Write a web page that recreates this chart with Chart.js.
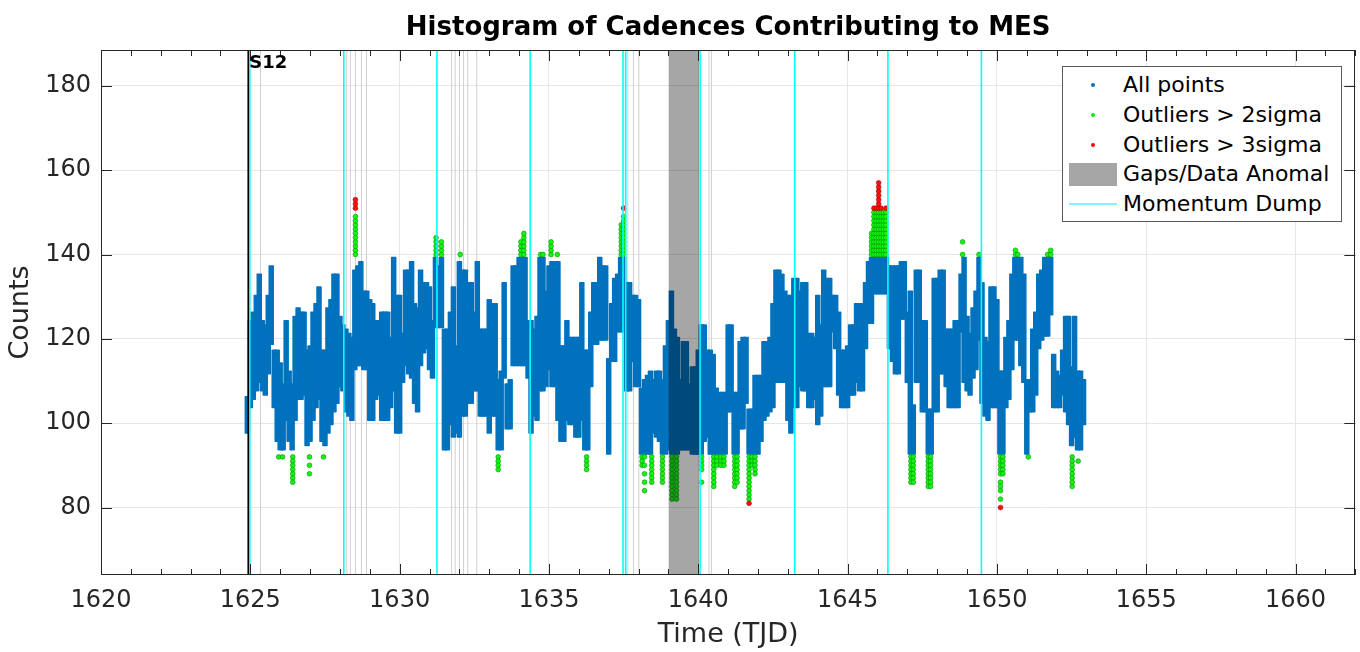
<!DOCTYPE html>
<html><head><meta charset="utf-8">
<script src="https://cdn.jsdelivr.net/npm/chart.js@4.4.1/dist/chart.umd.min.js"></script>
<style>
html,body{margin:0;padding:0;background:#fff;}
#wrap{position:relative;width:1360px;height:652px;}
#legend{position:absolute;left:1062px;top:66px;width:280px;height:156px;background:#fff;border:1px solid #5a5a5a;font-family:"DejaVu Sans",sans-serif;font-size:22px;color:#000;box-sizing:border-box;}
.row{position:absolute;left:0;width:100%;height:30px;line-height:30px;}
.lbl{position:absolute;left:60px;top:0;white-space:nowrap;}
.dot{position:absolute;left:28px;top:13px;width:4px;height:4px;border-radius:50%;}
.rect{position:absolute;left:6px;top:4px;width:48px;height:23px;background:#a6a6a6;}
.line{position:absolute;left:6px;top:14px;width:48px;height:2px;background:#7ff6fb;}
</style></head><body>
<div id="wrap">
<canvas id="c" width="1360" height="652"></canvas>
<div id="legend">
  <div class="row" style="top:3px"><span class="dot" style="background:#0072BD"></span><span class="lbl">All points</span></div>
  <div class="row" style="top:33px"><span class="dot" style="background:#00ee00"></span><span class="lbl">Outliers &gt; 2sigma</span></div>
  <div class="row" style="top:63px"><span class="dot" style="background:#ff0000"></span><span class="lbl">Outliers &gt; 3sigma</span></div>
  <div class="row" style="top:92px"><span class="rect"></span><span class="lbl">Gaps/Data Anomal</span></div>
  <div class="row" style="top:122px"><span class="line"></span><span class="lbl">Momentum Dump</span></div>
</div>
</div>
<script>
// ---------------- DATA ----------------
const binTime = [
 1624.9,
 1625.0,1625.1,1625.2,1625.3,1625.4,1625.5,1625.6,1625.7,1625.8,1625.9,
 1626.0,1626.1,1626.2,1626.3,1626.4,1626.5,1626.6,1626.7,1626.8,1626.9,
 1627.0,1627.1,1627.2,1627.3,1627.4,1627.5,1627.6,1627.7,1627.8,1627.9,
 1628.0,1628.1,1628.2,1628.3,1628.4,1628.5,1628.6,1628.7,1628.8,1628.9,
 1629.0,1629.1,1629.2,1629.3,1629.4,1629.5,1629.6,1629.7,1629.8,1629.9,
 1630.0,1630.1,1630.2,1630.3,1630.4,1630.5,1630.6,1630.7,1630.8,1630.9,
 1631.0,1631.1,1631.2,1631.3,1631.4,1631.5,1631.6,1631.7,1631.8,1631.9,
 1632.0,1632.1,1632.2,1632.3,1632.4,1632.5,1632.6,1632.7,1632.8,1632.9,
 1633.0,1633.1,1633.2,1633.3,1633.4,1633.5,1633.6,1633.7,1633.8,1633.9,
 1634.0,1634.1,1634.2,1634.3,1634.4,1634.5,1634.6,1634.7,1634.8,1634.9,
 1635.0,1635.1,1635.2,1635.3,1635.4,1635.5,1635.6,1635.7,1635.8,1635.9,
 1636.0,1636.1,1636.2,1636.3,1636.4,1636.5,1636.6,1636.7,1636.8,1636.9,
 1637.0,1637.1,1637.2,1637.3,1637.4,1637.5,1637.6,1637.7,1637.8,1637.9,
 1638.0,1638.1,1638.2,1638.3,1638.4,1638.5,1638.6,1638.7,1638.8,1638.9,
 1639.0,1639.1,1639.2,1639.3,1639.4,1639.5,1639.6,1639.7,1639.8,1639.9,
 1640.0,1640.1,1640.2,1640.3,1640.4,1640.5,1640.6,1640.7,1640.8,1640.9,
 1641.0,1641.1,1641.2,1641.3,1641.4,1641.5,1641.6,1641.7,1641.8,1641.9,
 1642.0,1642.1,1642.2,1642.3,1642.4,1642.5,1642.6,1642.7,1642.8,1642.9,
 1643.0,1643.1,1643.2,1643.3,1643.4,1643.5,1643.6,1643.7,1643.8,1643.9,
 1644.0,1644.1,1644.2,1644.3,1644.4,1644.5,1644.6,1644.7,1644.8,1644.9,
 1645.0,1645.1,1645.2,1645.3,1645.4,1645.5,1645.6,1645.7,1645.8,1645.9,
 1646.0,1646.1,1646.2,1646.3,1646.4,1646.5,1646.6,1646.7,1646.8,1646.9,
 1647.0,1647.1,1647.2,1647.3,1647.4,1647.5,1647.6,1647.7,1647.8,1647.9,
 1648.0,1648.1,1648.2,1648.3,1648.4,1648.5,1648.6,1648.7,1648.8,1648.9,
 1649.0,1649.1,1649.2,1649.3,1649.4,1649.5,1649.6,1649.7,1649.8,1649.9,
 1650.0,1650.1,1650.2,1650.3,1650.4,1650.5,1650.6,1650.7,1650.8,1650.9,
 1651.0,1651.1,1651.2,1651.3,1651.4,1651.5,1651.6,1651.7,1651.8,1651.9,
 1652.0,1652.1,1652.2,1652.3,1652.4,1652.5,1652.6,1652.7,1652.8,1652.9
];
const binLow = [
 98,
 104,106,108,110,108,107,112,119,104,96,
 94,94,101,96,94,101,106,106,107,95,
 96,101,104,106,96,95,98,100,103,105,
 109,108,103,102,101,113,114,114,113,113,
 101,101,106,107,101,101,101,104,108,98,
 98,110,114,112,111,105,103,114,117,118,
 113,111,123,123,123,94,94,100,97,98,
 97,102,102,105,105,108,108,102,102,102,
 98,102,102,94,94,111,99,99,114,114,
 114,114,114,111,98,102,101,108,108,109,
 113,109,109,101,96,96,101,100,100,97,
 97,101,94,94,109,119,119,120,120,120,
 93,115,115,122,122,122,108,108,115,109,
 109,93,93,93,93,98,97,96,93,93,
 94,93,93,93,94,94,94,94,93,93,
 93,93,96,97,93,93,93,93,93,93,
 103,103,93,93,99,99,105,93,93,93,
 93,96,101,102,103,104,110,110,110,110,
 101,98,104,104,109,108,108,104,104,106,
 100,102,109,109,109,122,118,107,104,104,
 104,107,107,110,108,108,118,124,124,131,
 131,131,131,131,118,115,112,112,125,125,
 110,93,93,110,110,103,103,93,93,103,
 103,112,112,109,104,104,104,104,122,110,
 108,107,111,113,120,105,102,101,104,104,
 104,93,93,104,106,113,120,120,114,110,
 93,103,103,107,118,120,121,121,126,104,
 104,104,107,103,100,95,97,94,94,100
];
const binHigh = [
 106,
 124,126,130,135,124,123,130,137,117,117,
 114,109,124,112,109,125,127,126,126,117,
 118,126,128,132,117,117,127,129,135,135,
 125,123,122,121,120,136,137,138,131,131,
 129,128,124,124,126,126,126,120,139,130,
 130,121,136,136,138,128,127,136,133,133,
 132,124,139,137,139,122,122,126,132,118,
 138,136,136,133,133,126,138,122,122,122,
 129,128,128,110,112,133,109,110,137,137,
 139,139,139,124,124,122,125,139,139,131,
 137,138,138,138,118,118,124,120,120,120,
 120,133,117,117,126,133,133,139,137,137,
 115,128,134,135,139,139,133,133,130,130,
 129,108,110,111,112,110,112,112,110,118,
 124,131,122,120,110,119,119,109,113,113,
 117,123,123,117,117,116,108,107,107,107,
 123,123,107,107,119,120,120,103,103,111,
 111,111,119,119,120,128,136,136,135,131,
 130,130,134,134,131,133,133,121,121,120,
 130,123,136,134,134,130,130,126,117,117,
 118,123,123,128,128,128,133,138,139,139,
 139,139,139,139,137,137,137,137,138,138,
 126,131,104,136,136,124,124,103,103,134,
 134,136,136,122,122,122,124,124,135,139,
 125,121,127,131,139,133,120,119,132,132,
 129,112,112,120,124,135,139,139,139,135,
 110,110,122,126,135,136,139,139,139,116,
 112,111,117,125,125,113,125,112,112,110
];
// Outliers > 2 sigma: [time, counts]
const outliers2 = [
 [1625.95,[92]],[1626.08,[92]],
 [1626.42,[92,91,90,89,88,87,86]],
 [1626.98,[92,90,88]],[1627.45,[92]],
 [1628.52,[140,141,142,143,144,145,146,147,148,149]],
 [1631.22,[140,141,142,143,144]],[1631.40,[140,141,142,143]],[1632.03,[140]],
 [1633.30,[92,91,90,89]],
 [1634.06,[140,141,142,143]],[1634.16,[140,141,142,143,144,145]],
 [1634.72,[140]],[1634.80,[140]],[1635.07,[140,141,142,143]],[1635.28,[140]],
 [1636.26,[92,91,90,89]],
 [1637.42,[140,141,142,143,144,145,146,147]],[1637.50,[140,141,142,143,144,145,146,147,148,149]],
 [1638.12,[92,91,90]],[1638.20,[92,90,88,86,84]],
 [1638.44,[92,91,90,89,88,87,86]],[1638.80,[92,91,90,89,88,87,86]],
 [1639.12,[92,91,90,89,88,87,86,85,84,83,82]],[1639.27,[92,91,90,89,88,87,86,85,84,83,82]],
 [1640.11,[92,91,90,89,86]],[1640.52,[92,91,90,89,88,87,86,85]],
 [1640.62,[92,91,90]],[1640.76,[92,91,90]],[1640.86,[92,91,90]],
 [1641.22,[92,91,90,89,88,87,86,85]],[1641.30,[92,91,90,89,88,87,86]],
 [1641.70,[92,91,90,89,88,87,86,85,84,83,82]],[1641.80,[92,91,90]],[1641.90,[92,91,90,89,88]],
 [1645.80,[140,141,142,143,144,145]],
 [1645.88,[140,141,142,143,144,145,146,147,148,149,150]],
 [1645.96,[140,141,142,143,144,145,146,147,148,149,150]],
 [1646.04,[140,141,142,143,144,145,146,147,148,149,150]],
 [1646.12,[140,141,142,143,144,145,146,147,148,149,150]],
 [1646.20,[140,141,142,143,144,145,146,147,148,149,150]],
 [1646.28,[140,141,142,143,144,145,146,147,148,149,150]],
 [1647.12,[92,91,90,89,88,87,86]],[1647.20,[92,91,90,89,88,87,86]],
 [1647.70,[92,91,90,89,88,87,86,85]],[1647.78,[92,91,90,89,88,87,86,85]],
 [1648.85,[140,143]],[1649.40,[140]],
 [1650.12,[92,91,90,89,88,86,85,84,82]],[1650.20,[92,91,90,89,88]],
 [1650.62,[140,141]],[1650.70,[140]],[1651.05,[92]],
 [1651.70,[140]],[1651.80,[140,141]],
 [1652.52,[92,91,90,89,88,87,86,85]],[1652.72,[91]]
];
// Outliers > 3 sigma
const outliers3 = [
 [1628.52,[151,152,153]],[1637.50,[151]],[1641.70,[81]],
 [1645.88,[151]],[1645.96,[151]],[1646.04,[151,152,153,154,155,156,157]],
 [1646.12,[151]],[1646.28,[151]],[1650.12,[80]]
];
const gapStart = [1639.0];
const gapEnd = [1640.03];
const momentumDumps = [1624.98,1628.13,1631.25,1634.37,1637.48,1637.57,1640.06,1643.23,1646.35,1649.48];
const anomalyLines = [1625.34,1628.23,1628.35,1628.52,1628.72,1628.89,1631.74,1631.86,1632.0,1632.14,1632.28,1632.58,1637.64,1637.83,1638.01,1640.36,1640.44];
const sectorTimes = [1624.93];
const sectorLabels = ['S12'];
const xTicks = [1620,1625,1630,1635,1640,1645,1650,1655,1660];
const yTicks = [80,100,120,140,160,180];
const X_MIN = 1620, X_MAX = 1662, Y_MIN = 64, Y_MAX = 188.5;

// ---------------- BUILD ----------------
Chart.defaults.font.family = "'DejaVu Sans', sans-serif";
Chart.defaults.color = '#262626';

const blueData = binTime.map((t, i) => ({x: t, y: [binLow[i], binHigh[i]]}));
const toPoints = strands => strands.flatMap(([t, counts]) => counts.map(c => ({x: t, y: c})));
function vlines(times) {
  const d = [];
  times.forEach(t => { d.push({x: t, y: Y_MIN}, {x: t, y: Y_MAX}, {x: t, y: null}); });
  return d;
}
const gapData = [];
gapStart.forEach((s, i) => { gapData.push({x: s, y: Y_MAX}, {x: gapEnd[i], y: Y_MAX}); });

const axisDecor = {
  id: 'axisDecor',
  afterDraw(chart) {
    const {ctx, chartArea: a, scales: {x, y}} = chart;
    ctx.save();
    ctx.strokeStyle = '#262626';
    ctx.lineWidth = 1;
    ctx.beginPath();
    for (const v of xTicks) {
      const px = Math.round(x.getPixelForValue(v)) + 0.5;
      ctx.moveTo(px, a.bottom); ctx.lineTo(px, a.bottom - 11);
      ctx.moveTo(px, a.top); ctx.lineTo(px, a.top + 11);
    }
    for (let v = X_MIN; v <= X_MAX; v++) {
      const px = Math.round(x.getPixelForValue(v)) + 0.5;
      ctx.moveTo(px, a.bottom); ctx.lineTo(px, a.bottom - 6);
      ctx.moveTo(px, a.top); ctx.lineTo(px, a.top + 6);
    }
    for (const v of yTicks) {
      const py = Math.round(y.getPixelForValue(v)) + 0.5;
      ctx.moveTo(a.left, py); ctx.lineTo(a.left + 11, py);
      ctx.moveTo(a.right, py); ctx.lineTo(a.right - 11, py);
    }
    ctx.stroke();
    ctx.strokeRect(Math.round(a.left) + 0.5, Math.round(a.top) + 0.5, Math.round(a.right - a.left) - 1, Math.round(a.bottom - a.top) - 1);
    ctx.fillStyle = '#000';
    ctx.font = "bold 18px 'DejaVu Sans', sans-serif";
    ctx.textBaseline = 'middle';
    sectorTimes.forEach((t, i) => {
      ctx.fillText(sectorLabels[i], x.getPixelForValue(t) + 1, a.top + 13);
    });
    ctx.restore();
  }
};

new Chart(document.getElementById('c'), {
  type: 'bar',
  data: {
    datasets: [
      {type: 'line', label: 'anomaly', data: vlines(anomalyLines), borderColor: '#d0d0d0', borderWidth: 1, pointRadius: 0, spanGaps: false, order: 20},
      {type: 'bar', label: 'All points', data: blueData, backgroundColor: '#0072BD', barThickness: 1.5, inflateAmount: 2, borderRadius: 2, borderSkipped: false, grouped: false, order: 15},
      {type: 'scatter', label: 'Outliers > 2sigma', data: toPoints(outliers2), pointRadius: 2.4, pointBackgroundColor: '#14f514', pointBorderColor: 'rgba(0,140,0,0.8)', pointBorderWidth: 0.7, order: 12},
      {type: 'scatter', label: 'Outliers > 3sigma', data: toPoints(outliers3), pointRadius: 2.4, pointBackgroundColor: '#ff1010', pointBorderColor: 'rgba(150,0,0,0.8)', pointBorderWidth: 0.7, order: 11},
      {type: 'line', label: 'Gaps/Data Anomal', data: gapData, fill: 'start', backgroundColor: 'rgba(0,0,0,0.35)', borderWidth: 0, pointRadius: 0, order: 8},
      {type: 'line', label: 'Momentum Dump', data: vlines(momentumDumps), borderColor: '#00ffff', borderWidth: 1.6, pointRadius: 0, spanGaps: false, order: 6},
      {type: 'line', label: 'sector', data: vlines(sectorTimes), borderColor: '#000000', borderWidth: 1.6, pointRadius: 0, spanGaps: false, order: 5}
    ]
  },
  options: {
    responsive: false,
    animation: false,
    events: [],
    layout: {padding: {left: 0, right: 2, top: 0, bottom: 0}},
    plugins: {
      legend: {display: false},
      tooltip: {enabled: false},
      title: {display: true, text: 'Histogram of Cadences Contributing to MES', color: '#000', fullSize: false,
              font: {size: 26, weight: 'bold'}, padding: {top: 13, bottom: 5.8}}
    },
    scales: {
      x: {
        type: 'linear', min: X_MIN, max: X_MAX, offset: false,
        afterBuildTicks: s => { s.ticks = xTicks.map(v => ({value: v})); },
        afterFit: s => { s.height = 77; },
        grid: {color: '#e6e6e6', lineWidth: 1, drawTicks: false, offset: false},
        border: {display: false},
        ticks: {font: {size: 24}, color: '#262626', padding: 11, maxRotation: 0, autoSkip: false, callback: v => String(v)},
        title: {display: true, text: 'Time (TJD)', font: {size: 27}, color: '#262626', padding: {top: 0, bottom: 1}}
      },
      y: {
        type: 'linear', min: Y_MIN, max: Y_MAX,
        afterBuildTicks: s => { s.ticks = yTicks.map(v => ({value: v})); },
        afterFit: s => { s.width = 101; },
        grid: {color: '#e6e6e6', lineWidth: 1, drawTicks: false},
        border: {display: false},
        ticks: {font: {size: 24}, color: '#262626', padding: 10, autoSkip: false, callback: v => String(v)},
        title: {display: true, text: 'Counts', font: {size: 27}, color: '#262626', padding: {top: 5, bottom: 0}}
      }
    }
  },
  plugins: [axisDecor]
});
</script>
</body></html>
